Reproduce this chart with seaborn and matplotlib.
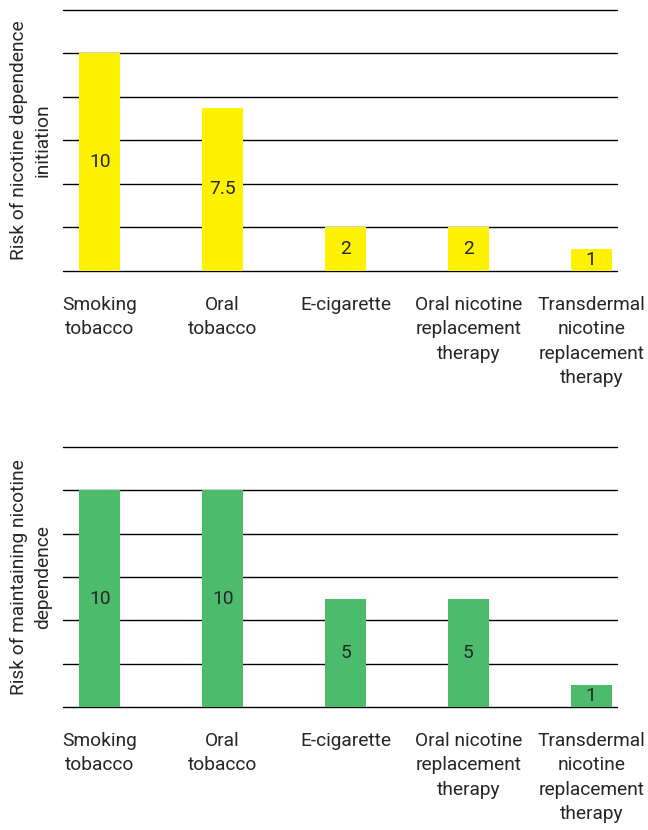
import matplotlib
matplotlib.use("Agg")
import matplotlib.pyplot as plt
import seaborn as sns
import pandas as pd

# categorias y valores
productos = ["Smoking\ntobacco", "Oral\ntobacco", "E-cigarette",
             "Oral nicotine\nreplacement\ntherapy",
             "Transdermal\nnicotine\nreplacement\ntherapy"]
riesgo_inicio = [10, 7.5, 2, 2, 1]
riesgo_mantener = [10, 10, 5, 5, 1]
etiquetas_inicio = ["10", "7.5", "2", "2", "1"]
etiquetas_mantener = ["10", "10", "5", "5", "1"]

sns.set_style("white")
plt.rcParams['font.family'] = ['Roboto', 'DejaVu Sans']

fig = plt.figure(figsize=(6.48, 8.3), dpi=100)
ax1 = fig.add_axes([0.0972, 0.6735, 0.855, 0.3145])
ax2 = fig.add_axes([0.0972, 0.148, 0.855, 0.3134])

TAM = 13.8


def dibujar(ax, valores, etiquetas, color, titulo):
    df = pd.DataFrame({'producto': productos, 'valor': valores})
    sns.barplot(data=df, x='producto', y='valor', color=color, width=0.335,
                saturation=1, linewidth=0, ax=ax, zorder=3)
    ax.set_ylim(0, 12)
    ax.set_xlim(-0.30, 4.21)
    ax.set_yticks(range(0, 13, 2))
    ax.set_yticklabels([])
    ax.tick_params(axis='y', length=0)
    ax.tick_params(axis='x', length=0, pad=18, labelsize=TAM)
    for lab in ax.get_xticklabels():
        lab.set_linespacing(1.45)
    ax.grid(axis='y', color='black', linewidth=1)
    for l in ax.get_ygridlines():
        l.set_clip_on(False)
    ax.set_axisbelow(True)
    for s in ax.spines.values():
        s.set_visible(False)
    ax.set_xlabel('')
    ax.set_ylabel(titulo, fontsize=TAM, linespacing=1.45, va='center')
    ax.yaxis.set_label_coords(-0.058, 0.5)
    for i, (v, t) in enumerate(zip(valores, etiquetas)):
        ax.text(i, v / 2, t, ha='center', va='center', fontsize=TAM, zorder=4)


dibujar(ax1, riesgo_inicio, etiquetas_inicio, '#FFF200',
        'Risk of nicotine dependence\ninitiation')
dibujar(ax2, riesgo_mantener, etiquetas_mantener, '#4CBB6C',
        'Risk of maintaining nicotine\ndependence')

fig.savefig('out.png', dpi=100)
